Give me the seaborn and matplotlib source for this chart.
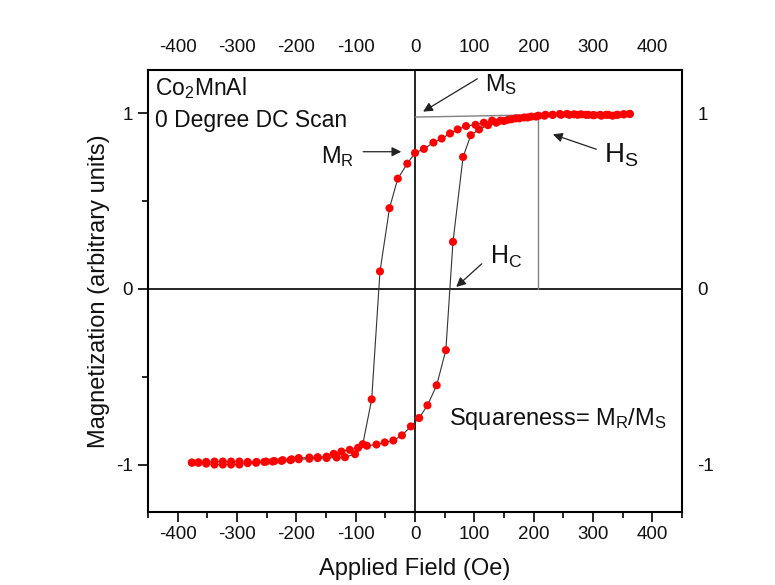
import numpy as np
import pandas as pd
import matplotlib
matplotlib.use("Agg")
import matplotlib.pyplot as plt
import seaborn as sns
from matplotlib.ticker import MultipleLocator, FixedLocator

# ---- data ----
desc_field = [362, 352, 342, 333, 322, 312, 302, 292, 280, 268, 256, 244, 232, 220, 208,
              196, 184, 170, 157, 144, 130, 116, 102, 86, 72, 59, 45, 31, 15, 0,
              -13, -29, -43, -59, -73, -88, -101, -118, -132, -149, -164, -178, -196,
              -210, -225, -240, -254, -268, -282, -296, -310, -324, -338, -352, -365, -376]
desc_mag = [0.995, 0.993, 0.990, 0.985, 0.990, 0.990, 0.988, 0.990, 0.993, 0.993, 0.995,
            0.995, 0.990, 0.990, 0.985, 0.980, 0.975, 0.970, 0.962, 0.957, 0.957, 0.945,
            0.933, 0.926, 0.907, 0.884, 0.855, 0.832, 0.796, 0.773,
            0.712, 0.627, 0.459, 0.099, -0.629, -0.884, -0.941, -0.958, -0.960, -0.963,
            -0.963, -0.967, -0.970, -0.975, -0.979, -0.983, -0.985, -0.990, -0.992,
            -1.000, -1.000, -1.000, -1.000, -0.995, -0.990, -0.989]

asc_field = [-376, -365, -352, -338, -324, -310, -296, -282, -267, -251, -237, -223, -208,
             -196, -178, -164, -149, -137, -124, -110, -96, -81, -65, -51, -36.5, -22, -7,
             7, 21, 36.5, 52, 64, 81, 94, 108, 123, 137, 150, 163, 176, 190, 204, 218,
             232, 246, 260, 274, 288, 300, 314, 326, 340, 352, 362]
asc_mag = [-0.989, -0.987, -0.985, -0.983, -0.983, -0.983, -0.983, -0.985, -0.985, -0.983,
           -0.980, -0.975, -0.970, -0.963, -0.960, -0.958, -0.955, -0.939, -0.926, -0.916,
           -0.905, -0.893, -0.886, -0.874, -0.863, -0.834, -0.783, -0.735, -0.663, -0.549,
           -0.349, 0.267, 0.750, 0.874, 0.907, 0.931, 0.945, 0.955, 0.965, 0.970, 0.975,
           0.980, 0.985, 0.990, 0.990, 0.990, 0.990, 0.990, 0.988, 0.985, 0.990, 0.990,
           0.993, 0.995]

x_ticks = [-400, -300, -200, -100, 0, 100, 200, 300, 400]
y_ticks = [-1, 0, 1]

# ---- style ----
sns.set_theme(style="white")
plt.rcParams['font.family'] = ['Liberation Sans', 'DejaVu Sans']
plt.rcParams['mathtext.fontset'] = 'custom'
plt.rcParams['mathtext.rm'] = 'Liberation Sans'
plt.rcParams['mathtext.it'] = 'Liberation Sans:italic'

fig = plt.figure(figsize=(7.75, 5.85), dpi=100)
fig.patch.set_facecolor('white')
ax = fig.add_axes([148/775, 1-512/585, (682-148)/775, (512-70)/585])
ax.set_facecolor('white')

desc = pd.DataFrame({'field': desc_field, 'mag': desc_mag})
asc = pd.DataFrame({'field': asc_field, 'mag': asc_mag})

# reference lines
ax.axhline(0, color='black', lw=1.2, zorder=1)
ax.axvline(0, color='black', lw=1.2, zorder=1)
ax.plot([0, 192], [0.977, 0.989], color='#808080', lw=1.0, zorder=1)
ax.plot([207, 207], [0, 0.989], color='#808080', lw=1.0, zorder=1)

for df in (desc, asc):
    sns.lineplot(data=df, x='field', y='mag', sort=False, estimator=None,
                 color='#333333', lw=0.8, ax=ax, zorder=2)
    sns.scatterplot(data=df, x='field', y='mag', color='#ff0000', s=34,
                    edgecolor='none', ax=ax, zorder=3)

ax.set_xlim(-450, 450)
ax.set_ylim(-1.27, 1.245)
ax.xaxis.set_major_locator(FixedLocator(x_ticks))
ax.xaxis.set_minor_locator(MultipleLocator(50))
ax.yaxis.set_major_locator(FixedLocator(y_ticks))
ax.yaxis.set_minor_locator(FixedLocator([-0.5, 0.5]))
ax.set_xticklabels([str(v) for v in x_ticks])
ax.set_yticklabels([str(v) for v in y_ticks])

ax.tick_params(axis='both', which='both', direction='out', colors='black',
               labelsize=13.5, labelcolor='#111111')
ax.tick_params(axis='both', which='major', length=7, width=1.2)
ax.tick_params(axis='both', which='minor', length=4, width=1.2)
ax.tick_params(axis='x', which='both', bottom=True, top=False, labeltop=True)
ax.tick_params(axis='y', which='both', left=True, right=False, labelright=True)
ax.tick_params(axis='x', which='major', pad=3)
ax.tick_params(axis='y', which='major', pad=4)
for s in ax.spines.values():
    s.set_color('black')
    s.set_linewidth(1.5)

ax.set_xlabel('Applied Field (Oe)', fontsize=17, labelpad=11, color='#111111')
ax.set_ylabel('Magnetization (arbitrary units)', fontsize=17, labelpad=4, color='#111111')

# annotations
tc = '#111111'
ax.text(-438, 1.142, r'Co$_\mathrm{2}$MnAl', fontsize=16.5, va='center', ha='left', color=tc)
ax.text(-438, 0.96, '0 Degree DC Scan', fontsize=16.5, va='center', ha='left', color=tc)
ax.text(118, 1.16, r'M$_\mathrm{S}$', fontsize=17, va='center', ha='left', color=tc)
ax.text(-159, 0.751, r'M$_\mathrm{R}$', fontsize=17, va='center', ha='left', color=tc)
ax.text(318, 0.76, r'H$_\mathrm{S}$', fontsize=20, va='center', ha='left', color=tc)
ax.text(127, 0.181, r'H$_\mathrm{C}$', fontsize=18, va='center', ha='left', color=tc)
ax.text(57, -0.738, r'Squareness= M$_\mathrm{R}$/M$_\mathrm{S}$', fontsize=17,
        va='center', ha='left', color=tc)

arrow = dict(arrowstyle='-|>', color='#222222', lw=0.9, mutation_scale=14)
ax.annotate('', xy=(9.6, 1.0), xytext=(109, 1.203), arrowprops=arrow)
ax.annotate('', xy=(-18.5, 0.78), xytext=(-92, 0.78), arrowprops=arrow)
ax.annotate('', xy=(228, 0.884), xytext=(310, 0.789), arrowprops=arrow)
ax.annotate('', xy=(66, 0.0), xytext=(116, 0.153), arrowprops=arrow)

fig.savefig('out.png', dpi=100)
